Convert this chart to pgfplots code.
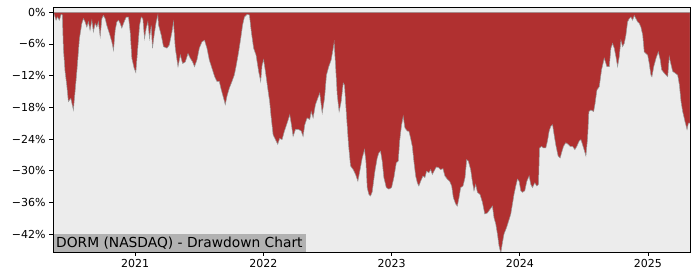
\documentclass[border=0pt]{standalone}
\usepackage{fontspec}
\setmainfont{DejaVu Sans}
\usepackage{pgfplots}
\pgfplotsset{compat=1.18}
\definecolor{ddred}{RGB}{176,48,48}
\definecolor{bggray}{RGB}{236,236,236}
\definecolor{labgray}{RGB}{178,178,178}
\begin{document}
\begin{tikzpicture}[x=1pt,y=1pt]
\begin{axis}[
  at={(0,0)}, anchor=south west,
  scale only axis, width=637pt, height=245pt,
  xmin=2020.359, xmax=2025.328,
  ymin=-45.4, ymax=1.0,
  axis background/.style={fill=bggray},
  axis on top,
  axis line style={line width=0.8pt},
  tick style={black, line width=0.6pt},
  tick align=outside, major tick length=4pt,
  xtick={2021,2022,2023,2024,2025},
  xticklabels={2021,2022,2023,2024,2025},
  ytick={0,-6,-12,-18,-24,-30,-36,-42},
  yticklabels={0\%,−6\%,−12\%,−18\%,−24\%,−30\%,−36\%,−42\%},
  xtick pos=bottom, ytick pos=left,
  ticklabel style={font=\fontsize{11}{13}\selectfont},
  clip=true,
]
\addplot[fill=ddred, draw=gray!80, line width=0.5pt] coordinates {
(2020.359,0) (2020.367,-0.3) (2020.383,-1.5) (2020.393,-0.9) (2020.409,-1.5) (2020.422,-0.4) (2020.432,-0.5)
(2020.440,-6.8) (2020.453,-11.2) (2020.466,-13.7) (2020.479,-16.9) (2020.498,-16.3) (2020.518,-18.5)
(2020.531,-15.0) (2020.545,-11.2) (2020.565,-5.0) (2020.584,-2.1) (2020.596,-1.2) (2020.609,-1.8)
(2020.623,-2.8) (2020.635,-1.8) (2020.648,-3.4) (2020.662,-1.5) (2020.674,-3.7) (2020.688,-2.1)
(2020.701,-2.8) (2020.713,-1.8) (2020.727,-4.6) (2020.740,-1.2) (2020.752,-0.6) (2020.766,-1.2)
(2020.779,-2.5) (2020.799,-4.0) (2020.818,-5.6) (2020.831,-7.2) (2020.844,-3.4) (2020.857,-1.8)
(2020.870,-1.5) (2020.883,-2.1) (2020.896,-3.0) (2020.909,-2.1) (2020.930,-0.9) (2020.948,-0.9)
(2020.961,-3.7) (2020.974,-8.7) (2020.992,-10.6) (2021.005,-11.4) (2021.018,-7.5) (2021.034,-2.5)
(2021.047,-0.9) (2021.060,-1.2) (2021.073,-5.0) (2021.086,-3.0) (2021.099,-1.8) (2021.112,-5.0)
(2021.125,-2.5) (2021.135,-6.8) (2021.148,-4.3) (2021.164,-1.8) (2021.177,-0.5) (2021.182,-2.4)
(2021.203,-4.3) (2021.221,-6.5) (2021.248,-6.8) (2021.266,-6.2) (2021.287,-3.7) (2021.299,-1.8)
(2021.313,-6.8) (2021.334,-10.3) (2021.352,-8.1) (2021.370,-9.7) (2021.391,-9.4) (2021.412,-7.8)
(2021.430,-8.7) (2021.448,-9.4) (2021.463,-10.3) (2021.482,-9.0) (2021.500,-6.8) (2021.521,-5.6)
(2021.541,-5.3) (2021.560,-6.8) (2021.578,-9.0) (2021.599,-10.6) (2021.620,-12.2) (2021.638,-13.1)
(2021.656,-13.1) (2021.672,-14.7) (2021.690,-16.3) (2021.703,-17.5) (2021.716,-15.9) (2021.734,-14.4)
(2021.755,-13.1) (2021.773,-11.9) (2021.789,-10.0) (2021.807,-7.5) (2021.823,-5.0) (2021.838,-2.4)
(2021.852,-0.9) (2021.873,-0.4) (2021.891,-0.5) (2021.906,-3.7) (2021.924,-6.8) (2021.943,-8.1)
(2021.963,-11.2) (2021.979,-13.1) (2021.990,-10.0) (2022.002,-9.0) (2022.016,-11.2) (2022.034,-14.4)
(2022.049,-16.9) (2022.060,-19.7) (2022.076,-23.2) (2022.094,-24.1) (2022.112,-25.0) (2022.127,-23.9)
(2022.146,-24.1) (2022.164,-22.5) (2022.185,-21.0) (2022.206,-19.4) (2022.219,-21.3) (2022.232,-23.5)
(2022.250,-22.2) (2022.276,-22.2) (2022.295,-22.5) (2022.310,-23.5) (2022.323,-21.3) (2022.341,-20.0)
(2022.362,-20.3) (2022.373,-18.8) (2022.388,-20.0) (2022.406,-17.5) (2022.424,-16.3) (2022.440,-15.3)
(2022.459,-19.1) (2022.477,-16.3) (2022.492,-11.9) (2022.510,-10.3) (2022.529,-9.0) (2022.545,-6.8)
(2022.552,-5.7) (2022.563,-10.0) (2022.576,-15.6) (2022.591,-18.8) (2022.607,-16.9) (2022.623,-13.4)
(2022.633,-13.8) (2022.648,-19.4) (2022.664,-25.0) (2022.680,-29.1) (2022.701,-29.8) (2022.719,-30.7)
(2022.737,-32.0) (2022.752,-30.1) (2022.771,-27.6) (2022.789,-26.0) (2022.800,-28.2) (2022.810,-33.2)
(2022.823,-34.5) (2022.836,-34.8) (2022.849,-34.0) (2022.870,-30.1) (2022.888,-27.6) (2022.901,-26.6)
(2022.914,-26.3) (2022.927,-28.2) (2022.940,-31.3) (2022.959,-33.2) (2022.979,-33.5) (2023.000,-33.2)
(2023.018,-31.3) (2023.037,-28.5) (2023.052,-28.2) (2023.063,-24.4) (2023.078,-21.3) (2023.091,-19.7)
(2023.104,-21.9) (2023.123,-22.5) (2023.135,-22.5) (2023.148,-23.8) (2023.162,-25.4) (2023.174,-28.2)
(2023.188,-31.0) (2023.201,-32.3) (2023.213,-32.9) (2023.227,-32.0) (2023.245,-31.0) (2023.260,-31.3)
(2023.273,-30.1) (2023.291,-30.4) (2023.305,-29.8) (2023.318,-30.7) (2023.331,-30.1) (2023.349,-29.3)
(2023.365,-29.4) (2023.383,-29.8) (2023.401,-29.6) (2023.416,-31.0) (2023.435,-31.6) (2023.453,-32.0)
(2023.469,-32.9) (2023.482,-35.1) (2023.500,-36.3) (2023.513,-36.7) (2023.526,-35.1) (2023.539,-33.2)
(2023.557,-32.9) (2023.573,-31.3) (2023.586,-27.9) (2023.599,-28.2) (2023.617,-29.8) (2023.630,-32.0)
(2023.643,-33.8) (2023.656,-32.6) (2023.670,-34.1) (2023.690,-34.5) (2023.709,-36.0) (2023.727,-38.2)
(2023.748,-38.0) (2023.768,-37.3) (2023.787,-36.7) (2023.799,-38.9) (2023.813,-40.1) (2023.826,-42.0)
(2023.838,-44.2) (2023.852,-45.6) (2023.865,-43.6) (2023.877,-42.0) (2023.898,-40.7) (2023.916,-39.3)
(2023.930,-38.2) (2023.943,-36.3) (2023.955,-34.5) (2023.969,-32.9) (2023.982,-31.6) (2023.995,-32.0)
(2024.008,-33.8) (2024.021,-34.1) (2024.039,-33.8) (2024.055,-32.0) (2024.073,-31.0) (2024.086,-32.6)
(2024.099,-33.2) (2024.117,-32.3) (2024.133,-32.9) (2024.146,-32.6) (2024.154,-25.7) (2024.170,-25.4)
(2024.185,-25.7) (2024.203,-25.7) (2024.216,-24.4) (2024.229,-22.5) (2024.242,-21.6) (2024.256,-21.3)
(2024.268,-23.2) (2024.281,-25.1) (2024.299,-27.2) (2024.315,-27.6) (2024.326,-26.6) (2024.341,-25.4)
(2024.359,-24.7) (2024.377,-25.0) (2024.393,-25.4) (2024.412,-25.4) (2024.430,-26.0) (2024.445,-25.4)
(2024.463,-24.4) (2024.477,-24.1) (2024.498,-25.7) (2024.516,-27.2) (2024.529,-23.8) (2024.539,-18.8)
(2024.555,-18.5) (2024.576,-18.8) (2024.586,-17.5) (2024.602,-14.7) (2024.620,-14.1) (2024.638,-10.9)
(2024.659,-8.7) (2024.680,-10.3) (2024.698,-10.3) (2024.711,-6.8) (2024.724,-5.9) (2024.737,-6.8)
(2024.750,-8.4) (2024.763,-10.3) (2024.776,-8.4) (2024.789,-5.3) (2024.802,-6.5) (2024.815,-5.9)
(2024.828,-4.3) (2024.841,-1.8) (2024.854,-1.2) (2024.867,-0.9) (2024.880,-1.5) (2024.893,-0.6)
(2024.906,-1.2) (2024.919,-1.8) (2024.932,-2.1) (2024.945,-2.8) (2024.959,-4.3) (2024.971,-7.5)
(2024.984,-7.8) (2024.998,-8.1) (2025.010,-9.7) (2025.023,-11.9) (2025.031,-12.2) (2025.045,-10.3)
(2025.063,-8.7) (2025.081,-7.5) (2025.096,-9.0) (2025.107,-10.9) (2025.123,-11.4) (2025.141,-11.9)
(2025.154,-12.2) (2025.166,-8.4) (2025.180,-9.9) (2025.193,-11.2) (2025.211,-11.5) (2025.232,-11.9)
(2025.245,-13.7) (2025.258,-16.9) (2025.271,-18.8) (2025.289,-20.7) (2025.305,-22.2) (2025.315,-21.0)
(2025.328,-21.0) (2025.328,0)
} \closedcycle;
\node[anchor=south west, fill=labgray, inner xsep=3pt, inner ysep=2.5pt, font=\fontsize{13.8}{16}\selectfont]
  at (rel axis cs:0,0) {DORM (NASDAQ) - Drawdown Chart};
\end{axis}
\pgfresetboundingbox
\path[use as bounding box] (-53pt,-28pt) rectangle (647pt,252pt);
\end{tikzpicture}
\end{document}
